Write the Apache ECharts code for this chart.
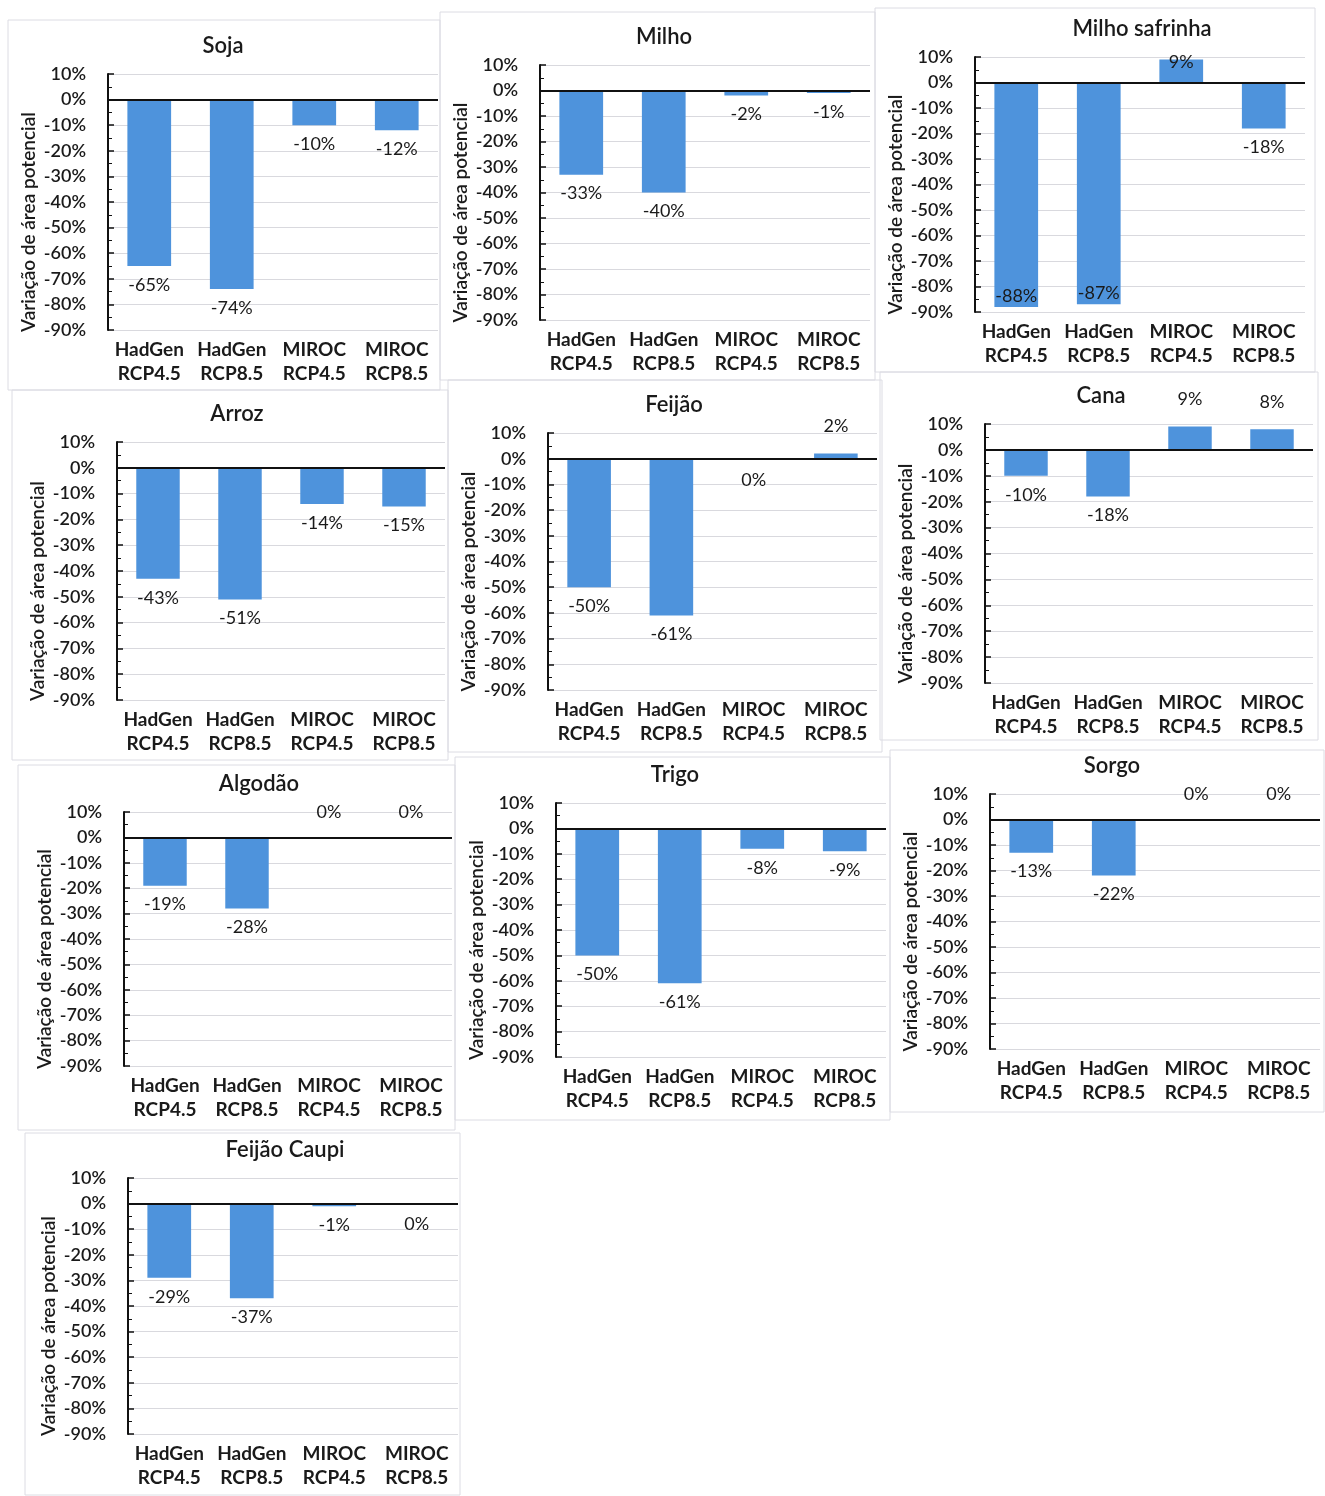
<!DOCTYPE html>
<html>
<head>
<meta charset="utf-8">
<script src="https://cdn.jsdelivr.net/npm/echarts@6/dist/echarts.min.js"></script>
<style>
  html, body { margin: 0; padding: 0; background: #ffffff; }
  #chart { width: 1325px; height: 1496px; }
</style>
</head>
<body>
<div id="chart"></div>
<script>
// categorias do eixo x
const categories = ['HadGen\nRCP4.5', 'HadGen\nRCP8.5', 'MIROC\nRCP4.5', 'MIROC\nRCP8.5'];
const crops = ['Soja', 'Milho', 'Milho safrinha', 'Arroz', 'Feijão', 'Cana', 'Algodão', 'Trigo', 'Sorgo', 'Feijão Caupi'];

// variação de área potencial (%)
const soja = [-65, -74, -10, -12];
const milho = [-33, -40, -2, -1];
const milhoSafrinha = [-88, -87, 9, -18];
const arroz = [-43, -51, -14, -15];
const feijao = [-50, -61, 0, 2];
const cana = [-10, -18, 9, 8];
const algodao = [-19, -28, 0, 0];
const trigo = [-50, -61, -8, -9];
const sorgo = [-13, -22, 0, 0];
const feijaoCaupi = [-29, -37, -1, 0];

const values = [soja, milho, milhoSafrinha, arroz, feijao, cana, algodao, trigo, sorgo, feijaoCaupi];

// posição de cada gráfico na página
const panels = [
  { left: 108, top: 74, width: 330, height: 256, titleX: 218, box: [8, 20, 432, 370] },
  { left: 540, top: 65, width: 330, height: 255, titleX: 659, box: [440, 12, 435, 368] },
  { left: 975, top: 57, width: 330, height: 255, titleX: 1137, box: [875, 8, 440, 364] },
  { left: 117, top: 442, width: 328, height: 258, titleX: 232, box: [12, 390, 436, 370] },
  { left: 548, top: 433, width: 329, height: 257, titleX: 669, box: [448, 380, 434, 372] },
  { left: 985, top: 424, width: 328, height: 259, titleX: 1096, box: [880, 372, 438, 368] },
  { left: 124, top: 812, width: 328, height: 254, titleX: 254, box: [18, 765, 437, 365] },
  { left: 556, top: 803, width: 330, height: 254, titleX: 670, box: [455, 757, 435, 363] },
  { left: 990, top: 794, width: 330, height: 255, titleX: 1107, box: [890, 750, 434, 362] },
  { left: 128, top: 1178, width: 330, height: 256, titleX: 280, box: [25, 1133, 435, 362] },
];

const zeroAbove = ['Algodão', 'Sorgo'];
const FONT = 'Lato';
const TXT = '#1a1a1a';

function labelPos(crop, v) {
  if (v <= -80) return { position: 'insideBottom', distance: 2 };
  if (crop === 'Milho safrinha' && v > 0) return { position: 'insideTop', distance: -6 };
  if (v > 0) return { position: 'top', distance: 18 };
  if (v === 0) return zeroAbove.includes(crop) ? { position: 'top', distance: 16 } : { position: 'bottom', distance: 12 };
  return { position: 'bottom', distance: 10 };
}

const chart = echarts.init(document.getElementById('chart'));

const grid = [], xAxis = [], yAxis = [], title = [], series = [], graphic = [];

panels.forEach((p, i) => {
  const crop = crops[i];
  grid.push({ left: p.left, top: p.top, width: p.width, height: p.height, containLabel: false });
  graphic.push({
    type: 'rect', silent: true, z: -1,
    shape: { x: p.box[0], y: p.box[1], width: p.box[2], height: p.box[3] },
    style: { fill: 'none', stroke: '#dcdce3', lineWidth: 1 },
  });
  title.push({
    text: crop,
    left: p.titleX,
    top: p.top - 44,
    textAlign: 'center',
    textStyle: { fontFamily: FONT, fontSize: 22, fontWeight: 600, color: TXT },
  });
  xAxis.push({
    type: 'category',
    gridIndex: i,
    data: categories,
    position: 'bottom',
    axisLine: { show: false, onZero: false },
    axisTick: { show: false },
    axisLabel: {
      fontFamily: FONT, fontSize: 19, fontWeight: 'bold', color: TXT,
      lineHeight: 24, margin: 8, interval: 0,
    },
  });
  yAxis.push({
    type: 'value',
    gridIndex: i,
    min: -90,
    max: 10,
    interval: 10,
    name: 'Variação de área potencial',
    nameLocation: 'middle',
    nameGap: 70,
    // desloca o título do eixo um pouco para baixo, como no original
    nameTextStyle: { fontFamily: FONT, fontSize: 19, fontWeight: 600, color: TXT, padding: [0, 40, 0, 0] },
    axisLine: { show: true, lineStyle: { color: '#111', width: 2 } },
    axisTick: { show: true, inside: true, length: 6, lineStyle: { color: '#111', width: 1.5 } },
    minorTick: { show: true, splitNumber: 2, length: 4, lineStyle: { color: '#111' } },
    axisLabel: {
      fontFamily: FONT, fontSize: 18, fontWeight: 600, color: TXT, margin: 22,
      formatter: (v) => v + '%',
    },
    splitLine: { show: true, lineStyle: { color: '#d9d9de', width: 1 } },
  });
  series.push({
    type: 'bar',
    xAxisIndex: i,
    yAxisIndex: i,
    barWidth: '53%',
    itemStyle: { color: '#4e93dc' },
    data: values[i].map((v) => ({
      value: v,
      label: Object.assign({
        show: true,
        formatter: v + '%',
        fontFamily: FONT,
        fontSize: 18,
        color: TXT,
      }, labelPos(crop, v)),
    })),
    markLine: {
      silent: true,
      symbol: 'none',
      label: { show: false },
      lineStyle: { color: '#111', width: 2, type: 'solid' },
      data: [{ yAxis: 0 }],
    },
  });
});

chart.setOption({
  backgroundColor: '#ffffff',
  animation: false,
  title,
  grid,
  xAxis,
  yAxis,
  series,
  graphic,
});
</script>
</body>
</html>
